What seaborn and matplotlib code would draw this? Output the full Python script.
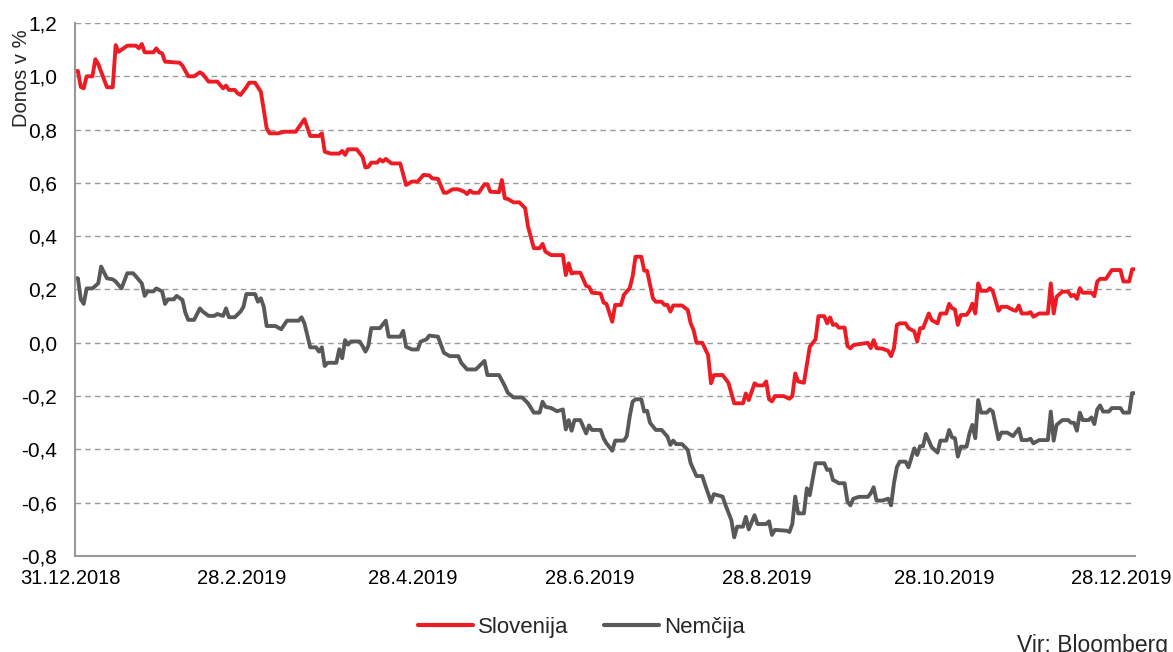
import matplotlib
matplotlib.use("Agg")
import matplotlib.pyplot as plt
import matplotlib.ticker as mticker
import matplotlib.transforms as mtransforms
import seaborn as sns
import pandas as pd

# ---- data ----
start_date = "2018-12-31"
end_date = "2019-12-31"
series_names = ["Slovenija", "Nemčija"]
series_colors = ["#ED1C24", "#595959"]

# days since 31.12.2018
sl_days = [0, 1, 2, 3, 4, 6, 7, 8, 11, 13, 14, 15, 18, 21, 22, 23, 24, 27, 28, 29, 30, 31, 36, 37, 39, 41, 43, 44, 46, 49,
           51, 52, 53, 55, 56, 57, 59, 60, 62, 64, 66, 67, 70, 72, 76, 79, 81, 84, 85, 86, 88, 91, 92, 93, 94, 97, 99, 100,
           101, 102, 104, 105, 106, 107, 109, 112, 114, 116, 118, 120, 122, 123, 125, 127, 128, 130, 132, 134, 135, 136,
           137, 139, 141, 142, 143, 146, 147, 148, 149, 151, 153, 155, 156, 158, 160, 161, 162, 164, 168, 169, 170, 171,
           172, 174, 176, 177, 178, 181, 182, 183, 185, 186, 188, 189, 191, 192, 193, 195, 196, 197, 199, 200, 202, 203,
           204, 205, 206, 209, 211, 212, 213, 214, 216, 218, 219, 220, 223, 225, 227, 230, 231, 232, 234, 235, 237, 238,
           239, 240, 241, 244, 246, 247, 248, 249, 251, 253, 255, 256, 258, 259, 260, 261, 262, 263, 265, 266, 267, 268,
           270, 273, 274, 275, 276, 278, 280, 281, 282, 283, 284, 286, 287, 289, 290, 291, 292, 294, 295, 297, 298, 300,
           301, 302, 303, 304, 305, 307, 308, 309, 310, 311, 312, 314, 315, 316, 318, 319, 321, 323, 324, 325, 326, 328,
           329, 330, 332, 335, 336, 337, 338, 340, 342, 343, 344, 345, 346, 347, 350, 351, 352, 353, 355, 357, 360, 361,
           363, 364, 365]
sl_values = [1.02, 1.02, 0.96, 0.955, 1.0, 1.0, 1.064, 1.046, 0.959, 0.959, 1.117, 1.092, 1.115, 1.115, 1.105, 1.121,
             1.09, 1.09, 1.105, 1.09, 1.086, 1.055, 1.051, 1.04, 1.0, 1.0, 1.015, 1.008, 0.98, 0.98,
             0.955, 0.965, 0.949, 0.949, 0.936, 0.93, 0.959, 0.976, 0.976, 0.942, 0.805, 0.786, 0.786, 0.792, 0.792,
             0.839, 0.776, 0.776, 0.786, 0.717, 0.71, 0.71, 0.72, 0.705, 0.726, 0.726, 0.698, 0.658,
             0.66, 0.676, 0.676, 0.688, 0.68, 0.69, 0.673, 0.673, 0.592, 0.605, 0.605, 0.63, 0.628, 0.617, 0.615, 0.563,
             0.563, 0.576, 0.576, 0.567, 0.558, 0.571,
             0.563, 0.563, 0.595, 0.595, 0.567, 0.565, 0.611, 0.542, 0.54, 0.527, 0.527, 0.505, 0.436, 0.355, 0.355,
             0.371, 0.342, 0.329, 0.329, 0.254, 0.298, 0.26,
             0.263, 0.263, 0.214, 0.21, 0.188, 0.185, 0.151, 0.146, 0.079, 0.142, 0.142, 0.18, 0.205, 0.248, 0.323,
             0.323, 0.271, 0.27, 0.167, 0.154, 0.154, 0.142,
             0.142, 0.117, 0.14, 0.14, 0.123, 0.073, 0.048, 0.0, 0.0, -0.046, -0.152, -0.121, -0.121, -0.15, -0.227,
             -0.227, -0.19, -0.215, -0.152, -0.16, -0.16, -0.145,
             -0.212, -0.22, -0.2, -0.2, -0.21, -0.2, -0.115, -0.145, -0.15, -0.015, 0.013, 0.1, 0.1, 0.073, 0.095,
             0.067, 0.07, 0.057, 0.057, -0.012, -0.021, -0.009,
             -0.005, 0.0, -0.02, 0.01, -0.02, -0.022, -0.03, -0.05, -0.02, 0.067, 0.073, 0.073, 0.055, 0.043, 0.005,
             0.055, 0.055, 0.11, 0.085, 0.073, 0.11, 0.11,
             0.146, 0.13, 0.125, 0.067, 0.104, 0.105, 0.12, 0.147, 0.11, 0.223, 0.195, 0.195, 0.205, 0.195, 0.12,
             0.135, 0.135, 0.123, 0.12, 0.14, 0.11, 0.11,
             0.115, 0.098, 0.11, 0.11, 0.223, 0.11, 0.173, 0.192, 0.192, 0.175, 0.18, 0.165, 0.205, 0.188, 0.188,
             0.175, 0.23, 0.24, 0.24, 0.273, 0.273, 0.23,
             0.23, 0.276, 0.276]

de_days = [0, 1, 2, 3, 4, 6, 8, 9, 11, 13, 14, 16, 18, 20, 21, 23, 24, 25, 27, 28, 30, 31, 32, 34, 35, 37, 38, 39, 41,
           43, 44, 46, 48, 49, 51, 52, 53, 55, 57, 58, 59, 62, 63, 64, 65, 66, 69, 71, 73, 77, 78, 79, 81, 83, 84, 85,
           86, 87, 90, 91, 92, 93, 94, 95, 98, 99, 100, 101, 102, 105, 107, 108, 112, 113, 114, 116, 118, 119, 121, 122,
           125, 127, 129, 132, 133, 135, 138, 141, 142, 146, 148, 149, 151, 154, 156, 158, 160, 161, 162, 164, 166, 168,
           169, 170, 171, 172, 174, 176, 177, 178, 181, 182, 183, 185, 186, 189, 190, 191, 192, 193, 195, 196, 197, 198,
           200, 202, 204, 205, 206, 207, 209, 211, 212, 214, 216, 217, 219, 220, 223, 224, 226, 227, 228, 230, 231, 232,
           234, 235, 238, 239, 240, 241, 245, 246, 247, 248, 249, 251, 252, 253, 255, 258, 259, 260, 261, 262, 263, 265,
           266, 267, 268, 270, 273, 274, 275, 276, 278, 280, 281, 282, 283, 284, 286, 287, 289, 290, 291, 292, 293, 295,
           297, 298, 300, 301, 302, 303, 304, 305, 307, 308, 309, 310, 311, 312, 314, 315, 316, 318, 319, 321, 323, 325,
           326, 328, 329, 330, 332, 335, 336, 337, 338, 340, 342, 343, 344, 345, 346, 347, 349, 350, 351, 352, 353, 354,
           356, 357, 360, 361, 363, 364, 365]
de_values = [0.242, 0.242, 0.163, 0.146, 0.204, 0.204, 0.223, 0.286, 0.242, 0.238, 0.23, 0.204, 0.261, 0.261, 0.249,
             0.223, 0.176, 0.193, 0.193, 0.204, 0.193, 0.146, 0.163, 0.163, 0.176, 0.161, 0.113, 0.086, 0.086,
             0.129, 0.117, 0.101, 0.101, 0.108, 0.101, 0.129, 0.096, 0.096, 0.117, 0.135, 0.183, 0.183, 0.154, 0.167,
             0.135, 0.063, 0.063, 0.051, 0.083, 0.083, 0.096, 0.073, -0.017, -0.017, -0.033, -0.017,
             -0.087, -0.075, -0.075, -0.024, -0.058, 0.01, -0.007, 0.005, 0.005, -0.012, -0.033, -0.012, 0.055, 0.055,
             0.083, 0.023, 0.023, 0.045, -0.015, -0.025, -0.025, 0.004, 0.013, 0.027,
             0.023, -0.037, -0.05, -0.05, -0.075, -0.1, -0.1, -0.068, -0.121, -0.121, -0.162, -0.187, -0.205, -0.205,
             -0.227, -0.262, -0.262, -0.221, -0.24, -0.245, -0.257, -0.25,
             -0.325, -0.29, -0.33, -0.29, -0.29, -0.34, -0.31, -0.327, -0.327, -0.358, -0.377, -0.405, -0.367, -0.367,
             -0.35, -0.277, -0.221, -0.212, -0.212, -0.258, -0.255, -0.3,
             -0.327, -0.327, -0.352, -0.383, -0.367, -0.38, -0.38, -0.402, -0.452, -0.5, -0.5, -0.534, -0.596, -0.568,
             -0.577, -0.609, -0.665, -0.73, -0.69, -0.69, -0.653, -0.7,
             -0.647, -0.68, -0.68, -0.67, -0.721, -0.702, -0.705, -0.71, -0.68, -0.577, -0.64, -0.64, -0.546, -0.572,
             -0.452, -0.452, -0.477, -0.475, -0.515, -0.52, -0.527, -0.527,
             -0.596, -0.61, -0.585, -0.578, -0.578, -0.565, -0.542, -0.592, -0.592, -0.585, -0.61, -0.527, -0.467,
             -0.446, -0.446, -0.467, -0.396, -0.421, -0.388, -0.388, -0.342, -0.392,
             -0.412, -0.367, -0.367, -0.327, -0.355, -0.358, -0.427, -0.39, -0.39, -0.34, -0.308, -0.358, -0.215,
             -0.262, -0.262, -0.25, -0.258, -0.362, -0.337, -0.337, -0.35, -0.322,
             -0.365, -0.365, -0.36, -0.377, -0.365, -0.365, -0.258, -0.367, -0.308, -0.29, -0.29, -0.3, -0.3, -0.33,
             -0.262, -0.29, -0.29, -0.28, -0.305, -0.25, -0.235, -0.258,
             -0.258, -0.245, -0.245, -0.262, -0.262, -0.189, -0.189]

x_tick_labels = ["31.12.2018", "28.2.2019", "28.4.2019", "28.6.2019", "28.8.2019", "28.10.2019", "28.12.2019"]
y_ticks = [-0.8, -0.6, -0.4, -0.2, 0.0, 0.2, 0.4, 0.6, 0.8, 1.0, 1.2]
y_label = "Donos v %"
source_text = "Vir: Bloomberg"

# ---- build long-form table ----
t0 = pd.Timestamp(start_date)
df = pd.concat([
    pd.DataFrame({"date": t0 + pd.to_timedelta(sl_days, unit="D"), "value": sl_values, "series": series_names[0]}),
    pd.DataFrame({"date": t0 + pd.to_timedelta(de_days, unit="D"), "value": de_values, "series": series_names[1]}),
], ignore_index=True)

# ---- style ----
sns.set_style("white")
plt.rcParams["font.family"] = ["Liberation Sans", "DejaVu Sans"]
FS = 14.5

fig = plt.figure(figsize=(11.73, 6.52), dpi=100)
ax = fig.add_axes([75 / 1173, 1 - 556 / 652, (1135 - 75) / 1173, (556 - 23) / 652])

sns.lineplot(data=df, x="date", y="value", hue="series", hue_order=series_names,
             palette=dict(zip(series_names, series_colors)), linewidth=2.8, ax=ax,
             estimator=None, sort=True, legend=False)

ax.set_xlim(pd.Timestamp(start_date), pd.Timestamp(end_date))
ax.set_ylim(y_ticks[0], y_ticks[-1])
ax.set_yticks(y_ticks)
ax.yaxis.set_major_formatter(mticker.FuncFormatter(lambda v, p: f"{v:.1f}".replace(".", ",")))
tick_dates = [pd.to_datetime(s, format="%d.%m.%Y") for s in x_tick_labels]
ax.set_xticks(tick_dates)
ax.set_xticklabels(x_tick_labels)
ax.set_xlabel("")
ax.set_ylabel("")

for y in y_ticks[1:]:
    ax.axhline(y, color="#999999", linewidth=1.0, linestyle=(0, (4, 3)), zorder=0)

for s in ["top", "right"]:
    ax.spines[s].set_visible(False)
for s in ["left", "bottom"]:
    ax.spines[s].set_color("#999999")
    ax.spines[s].set_linewidth(1.5)

ax.tick_params(axis="x", direction="in", length=5, width=1, color="#999999", labelsize=FS, pad=9,
               labelcolor="black")
ax.tick_params(axis="y", length=0, labelsize=15, pad=13, labelcolor="black")

# labels in the reference sit a few pixels left of their ticks
shift = mtransforms.ScaledTranslation(-5 / 100, 0, fig.dpi_scale_trans)
for lab in ax.get_xticklabels():
    lab.set_transform(lab.get_transform() + shift)

fig.text(22 / 1173, 1 - 78 / 652, y_label, rotation=90, ha="center", va="center", fontsize=FS)

handles = [plt.Line2D([], [], color=c, linewidth=3.0) for c in series_colors]
fig.legend(handles, series_names, loc="center", bbox_to_anchor=(581 / 1173, 1 - 627 / 652), ncol=2, frameon=False,
           fontsize=16, handlelength=2.5, handletextpad=0.2, columnspacing=1.6)

fig.text(1168 / 1173, 1 - 634 / 652, source_text, ha="right", va="top", fontsize=16.5)

fig.savefig("out.png", dpi=100)
